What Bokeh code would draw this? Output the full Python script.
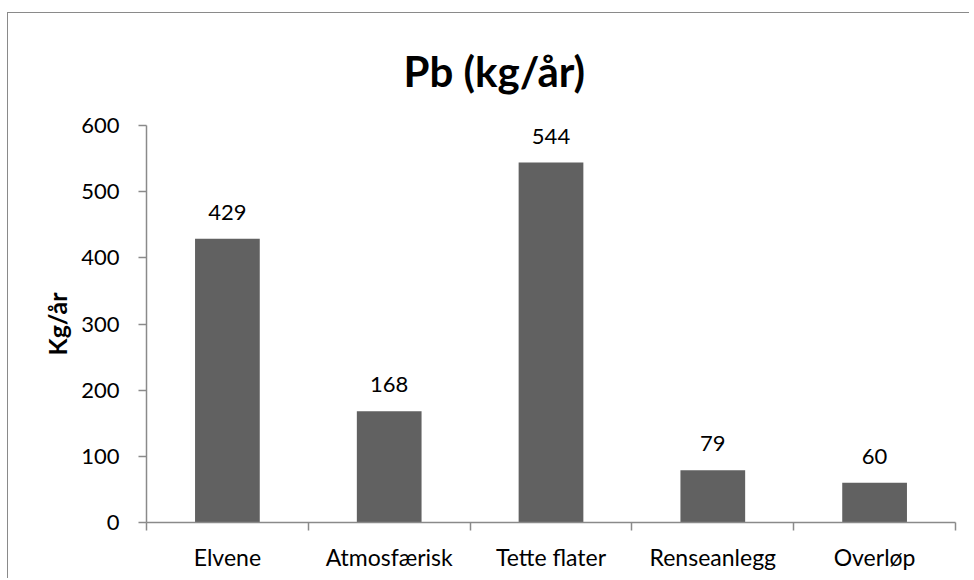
from bokeh.plotting import figure
from bokeh.models import (Range1d, ColumnDataSource, LabelSet, LinearAxis,
                          FixedTicker, Title)
from bokeh.core.properties import value
from bokeh.embed import file_html
from bokeh.resources import INLINE

categories = ["Elvene", "Atmosfærisk", "Tette flater", "Renseanlegg", "Overløp"]
values = [429, 168, 544, 79, 60]
y_ticks = [0, 100, 200, 300, 400, 500, 600]
title_text = "Pb (kg/år)"
y_label = "Kg/år"

FONT = "Lato"
GRAY = "#8a8a8a"
BAR = "#616161"

n = len(categories)
centers = [i + 0.5 for i in range(n)]
bounds = list(range(n + 1))

src = ColumnDataSource(dict(x=centers, val=values, lab=[str(v) for v in values]))

p = figure(width=962, height=566, x_range=Range1d(0, n),
           y_range=Range1d(y_ticks[0], y_ticks[-1]),
           x_axis_type=None, y_axis_type=None,
           toolbar_location=None, output_backend="svg",
           min_border_left=138, min_border_right=15, min_border_top=112, min_border_bottom=57)
p.styles = {"border-top": "1px solid #8a8a8a", "border-left": "1px solid #8a8a8a",
            "margin-top": "12px", "margin-left": "7px"}
p.outline_line_color = None
p.background_fill_color = "white"
p.border_fill_color = "white"

p.vbar(x="x", top="val", width=0.4, source=src, fill_color=BAR, line_color=None)

# y axis
yax = LinearAxis(ticker=FixedTicker(ticks=y_ticks))
yax.axis_line_color = GRAY
yax.axis_line_width = 1.5
yax.major_tick_line_color = GRAY
yax.major_tick_line_width = 1.5
yax.major_tick_in = 0
yax.major_tick_out = 8
yax.minor_tick_line_color = None
yax.major_label_text_font = FONT
yax.major_label_text_font_size = "22px"
yax.major_label_text_color = "black"
yax.major_label_standoff = 19
yax.axis_label = y_label
yax.axis_label_text_font = FONT
yax.axis_label_text_font_size = "25px"
yax.axis_label_text_font_style = "bold"
yax.axis_label_text_color = "black"
yax.axis_label_standoff = 6
p.add_layout(yax, "left")

p.ygrid.grid_line_color = GRAY
p.ygrid.grid_line_width = 1.5
p.ygrid.ticker = yax.ticker
p.xgrid.grid_line_color = None

# x axis: labels at centres, ticks at category boundaries
xax = LinearAxis(ticker=FixedTicker(ticks=centers, minor_ticks=bounds))
xax.major_label_overrides = {c: name for c, name in zip(centers, categories)}
xax.axis_line_color = GRAY
xax.axis_line_width = 1.5
xax.major_tick_line_color = None
xax.major_tick_in = 0
xax.major_tick_out = 8
xax.minor_tick_line_color = GRAY
xax.minor_tick_line_width = 1.5
xax.minor_tick_in = 0
xax.minor_tick_out = 8
xax.major_label_text_font = FONT
xax.major_label_text_font_size = "23px"
xax.major_label_text_color = "black"
xax.major_label_standoff = 12
p.add_layout(xax, "below")

labels = LabelSet(x="x", y="val", text="lab", source=src, text_align="center",
                  text_baseline="alphabetic", y_offset=19, text_font=value(FONT),
                  text_font_size=value("22px"), text_color="black")
p.add_layout(labels)

p.title = Title(text=title_text, align="left", text_font=FONT, text_font_size="42px",
                text_font_style="bold", text_color="black", offset=257, standoff=60)

open("out.html", "w").write(file_html(p, INLINE))
